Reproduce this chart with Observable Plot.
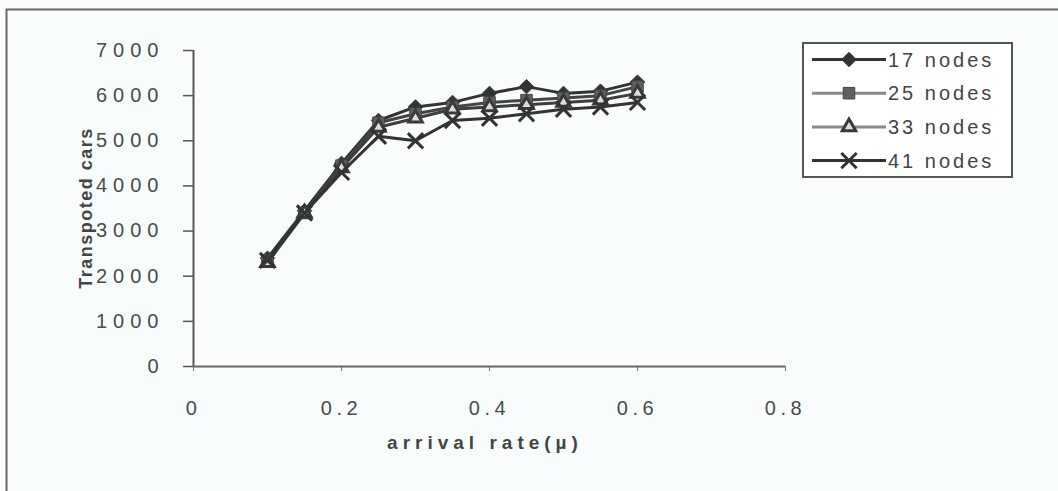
<!DOCTYPE html>
<html>
<head>
<meta charset="utf-8">
<script src="https://cdn.jsdelivr.net/npm/d3@7"></script>
<script src="https://cdn.jsdelivr.net/npm/@observablehq/plot@0.6"></script>
<style>
  html, body { margin: 0; padding: 0; background: #f9fcfd; }
  #chart { position: relative; width: 1058px; height: 491px; overflow: hidden; }
  svg { font-family: "Liberation Sans", Arial, sans-serif; }
</style>
</head>
<body>
<div id="chart"></div>
<script>
// ---- data ----
const arrivalRate = [0.1, 0.15, 0.2, 0.25, 0.3, 0.35, 0.4, 0.45, 0.5, 0.55, 0.6];
const nodes17 = [2400, 3450, 4500, 5450, 5750, 5850, 6050, 6200, 6050, 6100, 6300];
const nodes25 = [2350, 3400, 4450, 5400, 5600, 5750, 5850, 5900, 5950, 6000, 6200];
const nodes33 = [2300, 3400, 4400, 5300, 5500, 5700, 5750, 5800, 5850, 5900, 6050];
const nodes41 = [2350, 3400, 4300, 5100, 5000, 5450, 5500, 5600, 5700, 5750, 5850];
const seriesNames = ["17 nodes", "25 nodes", "33 nodes", "41 nodes"];
const xTicks = [0, 0.2, 0.4, 0.6, 0.8];
const yTicks = [0, 1000, 2000, 3000, 4000, 5000, 6000, 7000];
const xTitle = "arrival rate(\u00b5)";
const yTitle = "Transpoted cars";

const seriesValues = [nodes17, nodes25, nodes33, nodes41];
const styles = [
  {symbol: "diamond2", fill: "#333", stroke: "#333", line: "#333", r: 6.5, sw: 1},
  {symbol: "square", fill: "#606060", stroke: "#444", line: "#444", r: 6.5, sw: 1},
  {symbol: "triangle", fill: "#ddd", stroke: "#3a3a3a", line: "#3e3e3e", r: 5, sw: 3},
  {symbol: "times", fill: "none", stroke: "#333", line: "#333", r: 7, sw: 3}
];

const rows = seriesNames.map((name, i) => arrivalRate.map((x, j) => ({series: name, x, y: seriesValues[i][j]})));

const marks = [];
rows.forEach((data, i) => {
  marks.push(Plot.line(data, {x: "x", y: "y", stroke: styles[i].line, strokeWidth: 3}));
});
rows.forEach((data, i) => {
  const s = styles[i];
  marks.push(Plot.dot(data, {x: "x", y: "y", symbol: () => s.symbol, r: s.r,
    fill: s.fill, stroke: s.stroke, strokeWidth: s.sw}));
});

const plot = Plot.plot({
  width: 1058,
  height: 491,
  marginLeft: 193,
  marginRight: 273,
  marginTop: 50,
  marginBottom: 125,
  style: {background: "transparent", fontFamily: "Liberation Sans, Arial, sans-serif"},
  x: {domain: [0, 0.8]},
  y: {domain: [0, 7000]},
  symbol: {type: "identity"},
  marks: [
    Plot.axisY({ticks: yTicks, tickSize: 10, tickPadding: 19, tickFormat: d => String(d),
      label: null, fontSize: 20, fill: "#4a4a4a", stroke: "#555", strokeWidth: 1.5}),
    Plot.axisX({ticks: xTicks, tickSize: 5, tickPadding: 29, tickFormat: d => String(d),
      label: null, fontSize: 20, fill: "#4a4a4a", stroke: "#777"}),
    Plot.ruleY([0], {stroke: "#666", strokeWidth: 2}),
    Plot.ruleX([0], {stroke: "#555", strokeWidth: 2}),
    ...marks
  ]
});

document.getElementById("chart").appendChild(plot);

const svg = d3.select(plot);

// tick label typography
svg.selectAll('g[aria-label="y-axis tick label"]').attr("letter-spacing", 6);
svg.selectAll('g[aria-label="x-axis tick label"]').attr("letter-spacing", 4.5);
svg.selectAll('g[aria-label="y-axis tick label"] text, g[aria-label="x-axis tick label"] text')
  .attr("font-size", 20);

// outer frame (cut off at right and bottom)
svg.insert("rect", ":first-child")
  .attr("x", 6.5).attr("y", 9.5).attr("width", 1070).attr("height", 500)
  .attr("fill", "#f9fcfd").attr("stroke", "#666").attr("stroke-width", 2);

// axis titles
svg.append("text")
  .attr("x", 485).attr("y", 442)
  .attr("text-anchor", "middle").attr("dominant-baseline", "central")
  .attr("font-size", 19).attr("font-weight", "bold").attr("letter-spacing", 5)
  .attr("fill", "#444").text(xTitle);
svg.append("text")
  .attr("transform", "translate(86,208) rotate(-90)")
  .attr("text-anchor", "middle").attr("dominant-baseline", "central")
  .attr("font-size", 18).attr("font-weight", "bold").attr("letter-spacing", 1.5)
  .attr("fill", "#444").text(yTitle);

// legend
const lg = svg.append("g").attr("text-anchor", "start");
lg.append("rect").attr("x", 803).attr("y", 43).attr("width", 209).attr("height", 134)
  .attr("fill", "#fff").attr("stroke", "#555").attr("stroke-width", 2);
const symMap = {diamond2: d3.symbolDiamond2, square: d3.symbolSquare, triangle: d3.symbolTriangle, times: d3.symbolTimes};
const legendLine = ["#333", "#888", "#888", "#333"];
seriesNames.forEach((name, i) => {
  const cy = 59.5 + i * 33.7;
  const s = styles[i];
  lg.append("line").attr("x1", 812).attr("x2", 886).attr("y1", cy).attr("y2", cy)
    .attr("stroke", legendLine[i]).attr("stroke-width", 3);
  const area = Math.PI * s.r * s.r;
  lg.append("path").attr("d", d3.symbol(symMap[s.symbol], area)())
    .attr("transform", `translate(849,${cy})`)
    .attr("fill", s.fill).attr("stroke", s.stroke).attr("stroke-width", s.sw);
  lg.append("text").attr("x", 888).attr("y", cy)
    .attr("text-anchor", "start")
    .attr("dominant-baseline", "central").attr("font-size", 20).attr("letter-spacing", 3)
    .attr("fill", "#444").text(name);
});
</script>
</body>
</html>
